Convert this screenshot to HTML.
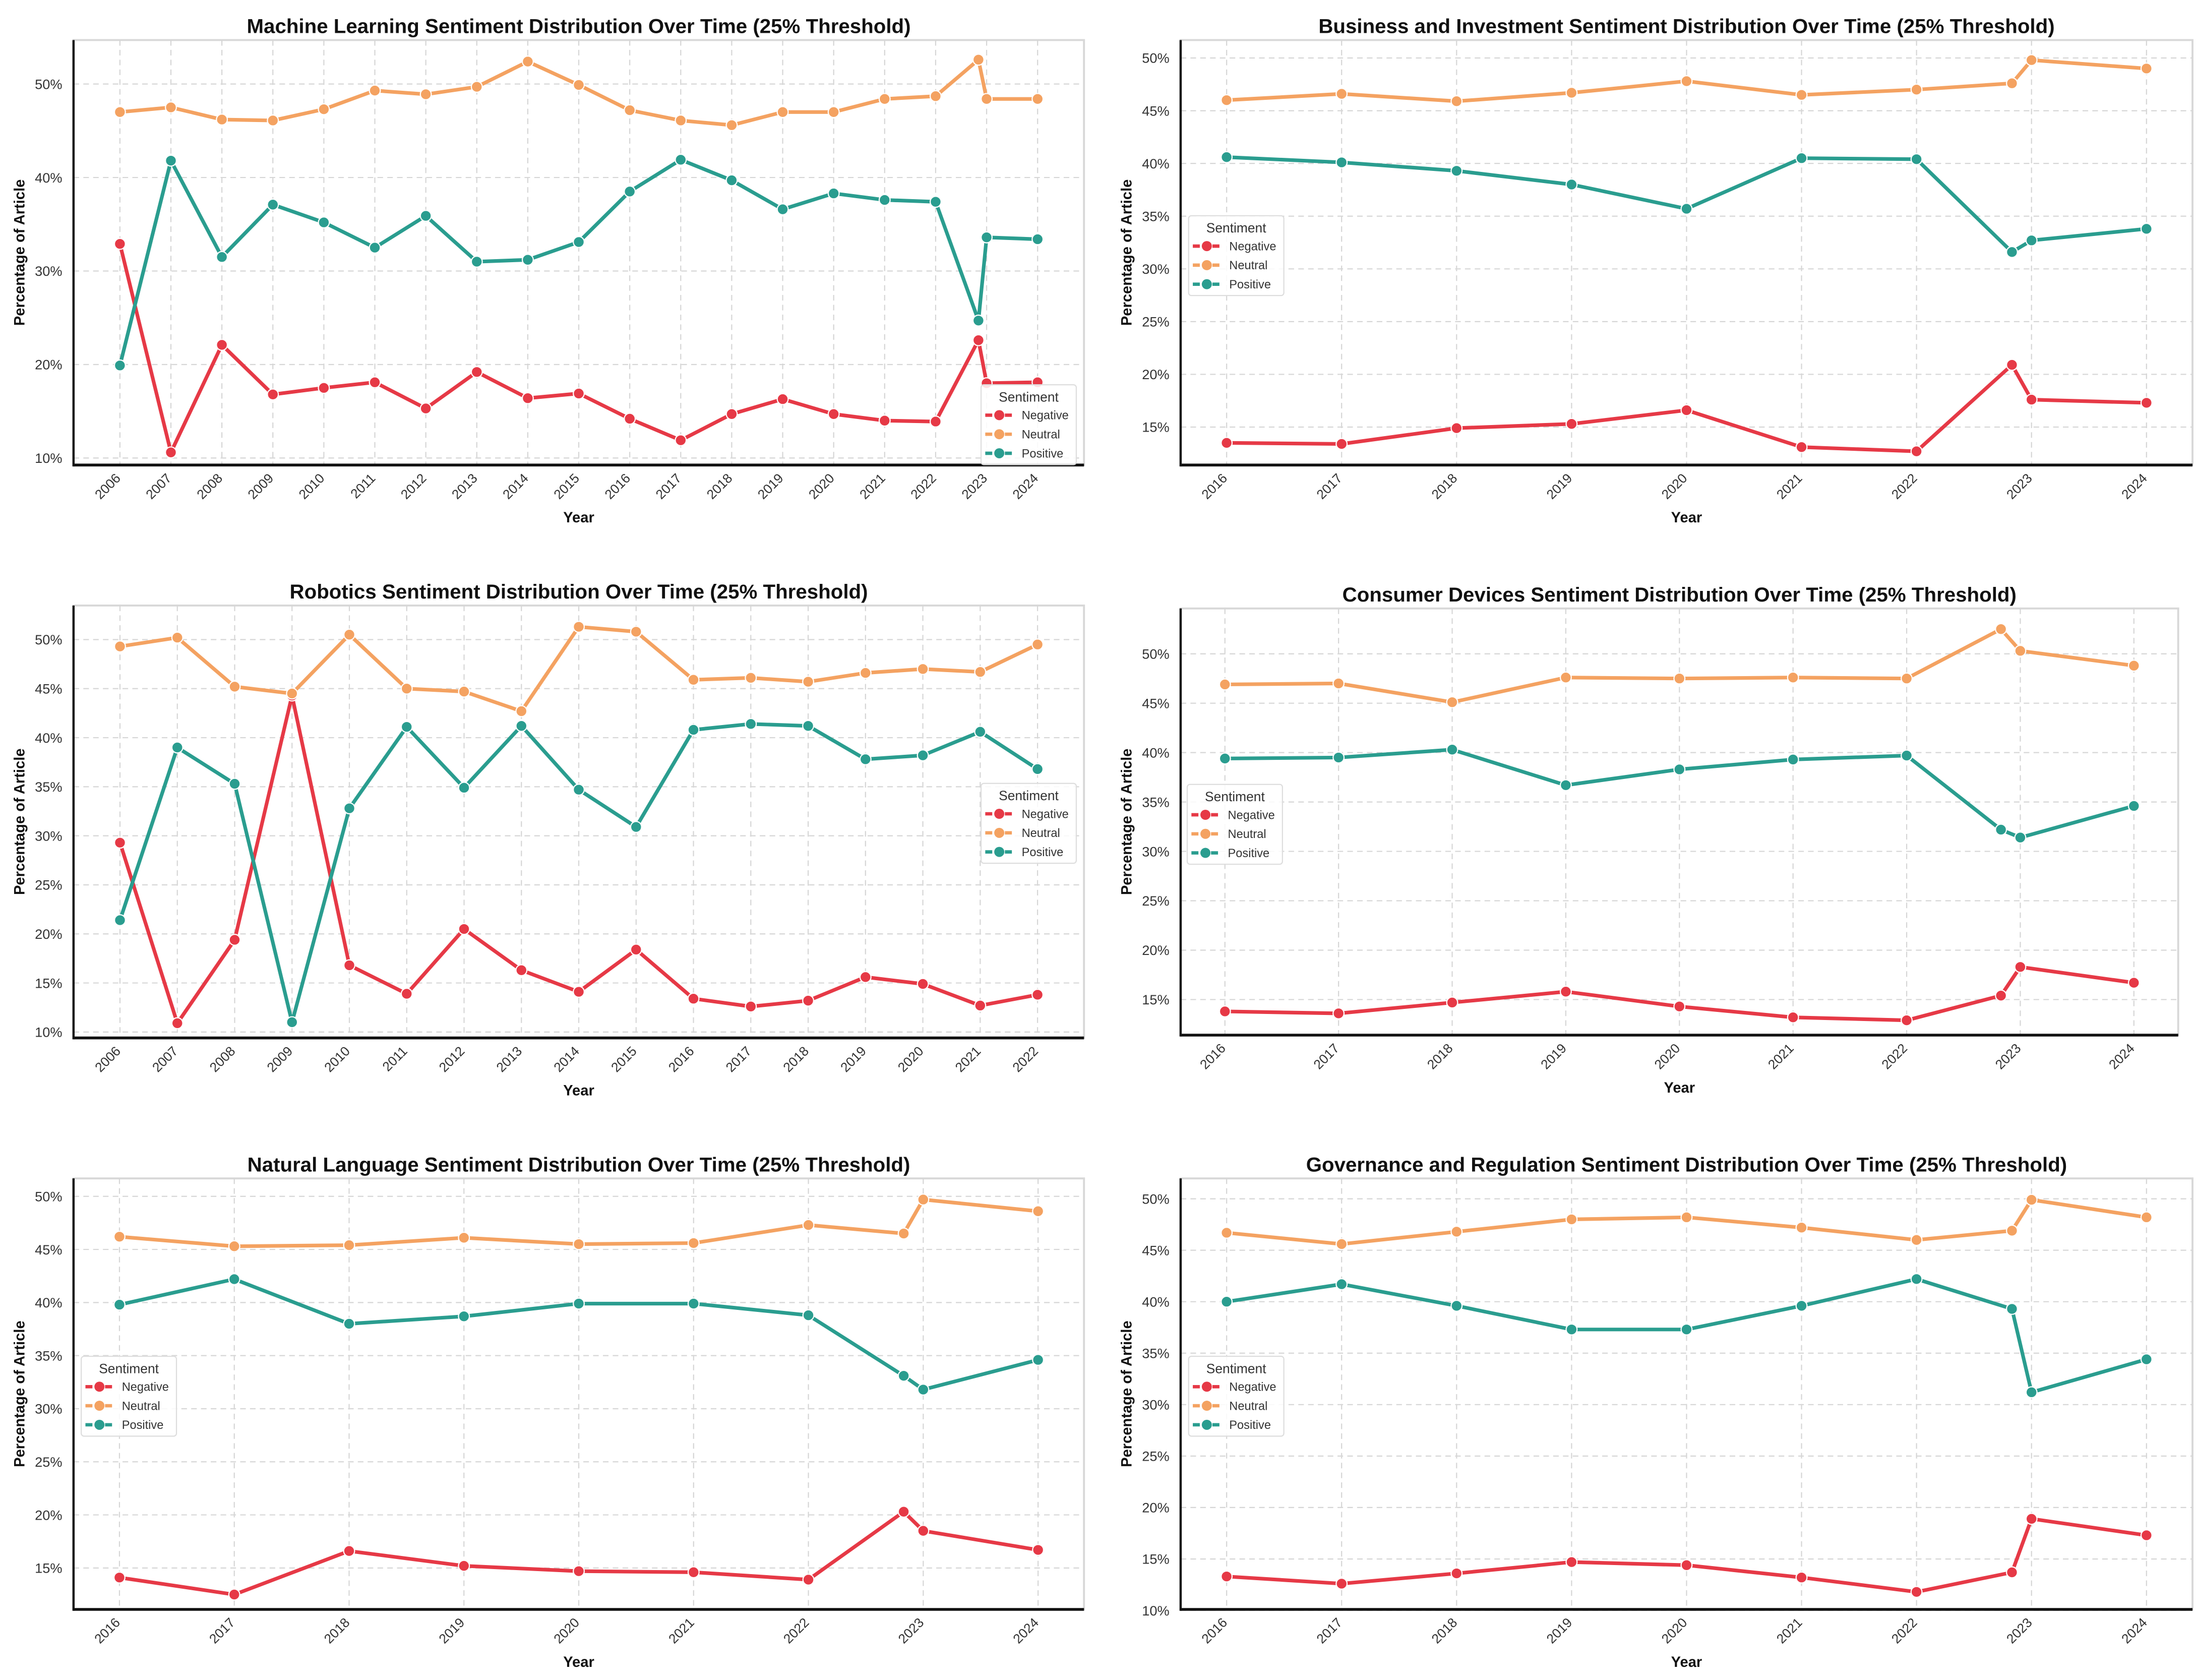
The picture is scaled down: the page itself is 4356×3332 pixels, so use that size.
<!DOCTYPE html>
<html><head><meta charset="utf-8"><style>
html,body{margin:0;padding:0;background:#fff;}
svg{display:block;font-family:"Liberation Sans",Arial,sans-serif;}
</style></head><body>
<svg id="fig" width="4356" height="3332" viewBox="0 0 1568 1199.4" xmlns="http://www.w3.org/2000/svg"></svg>
<script>
// ---- data ----
const mlX = [2006,2007,2008,2009,2010,2011,2012,2013,2014,2015,2016,2017,2018,2019,2020,2021,2022,2022.84,2023,2024];
const mlNeg = [32.9,10.6,22.1,16.8,17.5,18.1,15.3,19.2,16.4,16.9,14.2,11.9,14.7,16.3,14.7,14.0,13.9,22.6,18.0,18.1];
const mlNeu = [47.0,47.5,46.2,46.1,47.3,49.3,48.9,49.7,52.4,49.9,47.2,46.1,45.6,47.0,47.0,48.4,48.7,52.6,48.4,48.4];
const mlPos = [19.9,41.8,31.5,37.1,35.2,32.5,35.9,31.0,31.2,33.1,38.5,41.9,39.7,36.6,38.3,37.6,37.4,24.7,33.6,33.4];

const biX = [2016,2017,2018,2019,2020,2021,2022,2022.83,2023,2024];
const biNeg = [13.5,13.4,14.9,15.3,16.6,13.1,12.7,20.9,17.6,17.3];
const biNeu = [46.0,46.6,45.9,46.7,47.8,46.5,47.0,47.6,49.8,49.0];
const biPos = [40.6,40.1,39.3,38.0,35.7,40.5,40.4,31.6,32.7,33.8];

const roX = [2006,2007,2008,2009,2010,2011,2012,2013,2014,2015,2016,2017,2018,2019,2020,2021,2022];
const roNeg = [29.3,10.9,19.4,44.3,16.8,13.9,20.5,16.3,14.1,18.4,13.4,12.6,13.2,15.6,14.9,12.7,13.8];
const roNeu = [49.3,50.2,45.2,44.5,50.5,45.0,44.7,42.7,51.3,50.8,45.9,46.1,45.7,46.6,47.0,46.7,49.5];
const roPos = [21.4,39.0,35.3,11.0,32.8,41.1,34.9,41.2,34.7,30.9,40.8,41.4,41.2,37.8,38.2,40.6,36.8];

const cdX = [2016,2017,2018,2019,2020,2021,2022,2022.83,2023,2024];
const cdNeg = [13.8,13.6,14.7,15.8,14.3,13.2,12.9,15.4,18.3,16.7];
const cdNeu = [46.9,47.0,45.1,47.6,47.5,47.6,47.5,52.5,50.3,48.8];
const cdPos = [39.4,39.5,40.3,36.7,38.3,39.3,39.7,32.2,31.4,34.6];

const nlX = [2016,2017,2018,2019,2020,2021,2022,2022.83,2023,2024];
const nlNeg = [14.1,12.5,16.6,15.2,14.7,14.6,13.9,20.3,18.5,16.7];
const nlNeu = [46.2,45.3,45.4,46.1,45.5,45.6,47.3,46.5,49.7,48.6];
const nlPos = [39.8,42.2,38.0,38.7,39.9,39.9,38.8,33.1,31.8,34.6];

const gvX = [2016,2017,2018,2019,2020,2021,2022,2022.83,2023,2024];
const gvNeg = [13.3,12.6,13.6,14.7,14.4,13.2,11.8,13.7,18.9,17.3];
const gvNeu = [46.7,45.6,46.8,48.0,48.2,47.2,46.0,46.9,49.9,48.2];
const gvPos = [40.0,41.7,39.6,37.3,37.3,39.6,42.2,39.3,31.2,34.4];

const ticksA = [2006,2007,2008,2009,2010,2011,2012,2013,2014,2015,2016,2017,2018,2019,2020,2021,2022,2023,2024];
const ticksR = [2006,2007,2008,2009,2010,2011,2012,2013,2014,2015,2016,2017,2018,2019,2020,2021,2022];
const ticksB = [2016,2017,2018,2019,2020,2021,2022,2023,2024];
const yTicks10 = [10,20,30,40,50];
const yTicks5 = [15,20,25,30,35,40,45,50];
const yTicks5b = [10,15,20,25,30,35,40,45,50];

// ---- layout ----
const panels = [
 {key:'machine-learning',title:'Machine Learning Sentiment Distribution Over Time (25% Threshold)',L:52.5,R:774,T:28.6,B:332,x0:2005.09,x1:2024.91,y0:9.25,y1:54.7,xs:mlX,neg:mlNeg,neu:mlNeu,pos:mlPos,xt:ticksA,yt:yTicks10,leg:[700.5,274.7]},
 {key:'business-investment',title:'Business and Investment Sentiment Distribution Over Time (25% Threshold)',L:843,R:1565.5,T:28.6,B:332,x0:2015.60,x1:2024.40,y0:11.4,y1:51.7,xs:biX,neg:biNeg,neu:biNeu,pos:biPos,xt:ticksB,yt:yTicks5,leg:[848.7,154]},
 {key:'robotics',title:'Robotics Sentiment Distribution Over Time (25% Threshold)',L:52.5,R:774,T:432.3,B:741,x0:2005.19,x1:2022.81,y0:9.4,y1:53.47,xs:roX,neg:roNeg,neu:roNeu,pos:roPos,xt:ticksR,yt:yTicks5b,leg:[700.5,559.3]},
 {key:'consumer-devices',title:'Consumer Devices Sentiment Distribution Over Time (25% Threshold)',L:843,R:1555.3,T:434.4,B:739,x0:2015.61,x1:2024.39,y0:11.4,y1:54.59,xs:cdX,neg:cdNeg,neu:cdNeu,pos:cdPos,xt:ticksB,yt:yTicks5,leg:[847.7,560]},
 {key:'natural-language',title:'Natural Language Sentiment Distribution Over Time (25% Threshold)',L:52.5,R:774,T:841.3,B:1149,x0:2015.60,x1:2024.40,y0:11.1,y1:51.69,xs:nlX,neg:nlNeg,neu:nlNeu,pos:nlPos,xt:ticksB,yt:yTicks5,leg:[58,968.3]},
 {key:'governance-regulation',title:'Governance and Regulation Sentiment Distribution Over Time (25% Threshold)',L:843,R:1565.5,T:841.3,B:1149,x0:2015.60,x1:2024.40,y0:10.1,y1:51.98,xs:gvX,neg:gvNeg,neu:gvNeu,pos:gvPos,xt:ticksB,yt:yTicks5b,leg:[848.7,968.3]}
];
const COLORS = {neg:'#e63946',neu:'#f4a261',pos:'#2a9d8f'};
const NS='http://www.w3.org/2000/svg';
const svg=document.getElementById('fig');
function mk(tag,attrs,parent){const e=document.createElementNS(NS,tag);for(const k in attrs)e.setAttribute(k,attrs[k]);(parent||svg).appendChild(e);return e;}

panels.forEach(p=>{
  const g=mk('g',{});
  
  
  const sx=v=>p.L+(v-p.x0)/(p.x1-p.x0)*(p.R-p.L);
  const sy=v=>p.B-(v-p.y0)/(p.y1-p.y0)*(p.B-p.T);
  const fr=mk('rect',{x:p.L,y:p.T,width:p.R-p.L,height:p.B-p.T,fill:'#fff',stroke:'#d8d8d8','stroke-width':1.4},g);
  
  
  p.xt.forEach(t=>{const l=mk('line',{x1:sx(t),x2:sx(t),y1:p.T,y2:p.B,stroke:'#d6d6d6','stroke-width':0.8,'stroke-dasharray':'4,3'},g);
    
    
    const tx=mk('text',{x:0,y:0,'font-size':9.5,fill:'#333','text-anchor':'end',transform:`translate(${sx(t)+1},${p.B+10}) rotate(-45)`},g);
    tx.textContent=t;
    
    
  });
  p.yt.forEach(t=>{const l=mk('line',{x1:p.L,x2:p.R,y1:sy(t),y2:sy(t),stroke:'#d6d6d6','stroke-width':0.8,'stroke-dasharray':'4,3'},g);
    
    
    const tx=mk('text',{x:p.L-8,y:sy(t)+3.5,'font-size':9.8,fill:'#333','text-anchor':'end'},g);
    tx.textContent=t+'%';
    
    
  });
  const sl=mk('line',{x1:p.L,x2:p.L,y1:p.T,y2:p.B+1,stroke:'#111','stroke-width':1.6},g);
  
  
  const sb=mk('line',{x1:p.L,x2:p.R,y1:p.B,y2:p.B,stroke:'#111','stroke-width':2},g);
  
  
  const tt=mk('text',{x:(p.L+p.R)/2,y:p.T-5,'font-size':14.5,'font-weight':'bold',fill:'#111','text-anchor':'middle'},g);
  tt.textContent=p.title;
  
  
  const xt=mk('text',{x:(p.L+p.R)/2,y:p.B+41,'font-size':10.5,'font-weight':'bold',fill:'#111','text-anchor':'middle'},g);
  xt.textContent='Year';
  
  
  const yt=mk('text',{x:0,y:0,'font-size':10.5,'font-weight':'bold',fill:'#111','text-anchor':'middle',transform:`translate(${p.L-35},${(p.T+p.B)/2}) rotate(-90)`},g);
  yt.textContent='Percentage of Article';
  
  
  [['neg',p.neg,'negative'],['neu',p.neu,'neutral'],['pos',p.pos,'positive']].forEach(([k,vals,nm])=>{
    const pts=vals.map((v,i)=>sx(p.xs[i]).toFixed(2)+','+sy(v).toFixed(2)).join(' ');
    const pl=mk('polyline',{points:pts,fill:'none',stroke:COLORS[k],'stroke-width':2.6,'stroke-linejoin':'round'},g);
    
    
    vals.forEach((v,i)=>{const c=mk('circle',{cx:sx(p.xs[i]),cy:sy(v),r:3.9,fill:COLORS[k],stroke:'#fff','stroke-width':0.8},g);
      
      
    });
  });
  const [lx,ly]=p.leg;
  const lg=mk('g',{},g);
  
  
  mk('rect',{x:lx,y:ly,width:68,height:57,rx:2,fill:'#fff','fill-opacity':0.85,stroke:'#ddd','stroke-width':0.8},lg);
  const lt=mk('text',{x:lx+34,y:ly+12,'font-size':9.5,fill:'#333','text-anchor':'middle'},lg);
  lt.textContent='Sentiment';
  [['neg','Negative'],['neu','Neutral'],['pos','Positive']].forEach(([k,lab],i)=>{
    const yy=ly+21.7+i*13.6;
    const e=mk('g',{},lg);
    
    
    mk('line',{x1:lx+3,x2:lx+23,y1:yy,y2:yy,stroke:COLORS[k],'stroke-width':2.4,'stroke-dasharray':'5,2'},e);
    mk('circle',{cx:lx+13,cy:yy,r:3.6,fill:COLORS[k]},e);
    const tx=mk('text',{x:lx+29,y:yy+3,'font-size':8.5,fill:'#333'},e);
    tx.textContent=lab;
  });
});
</script>
</body></html>
